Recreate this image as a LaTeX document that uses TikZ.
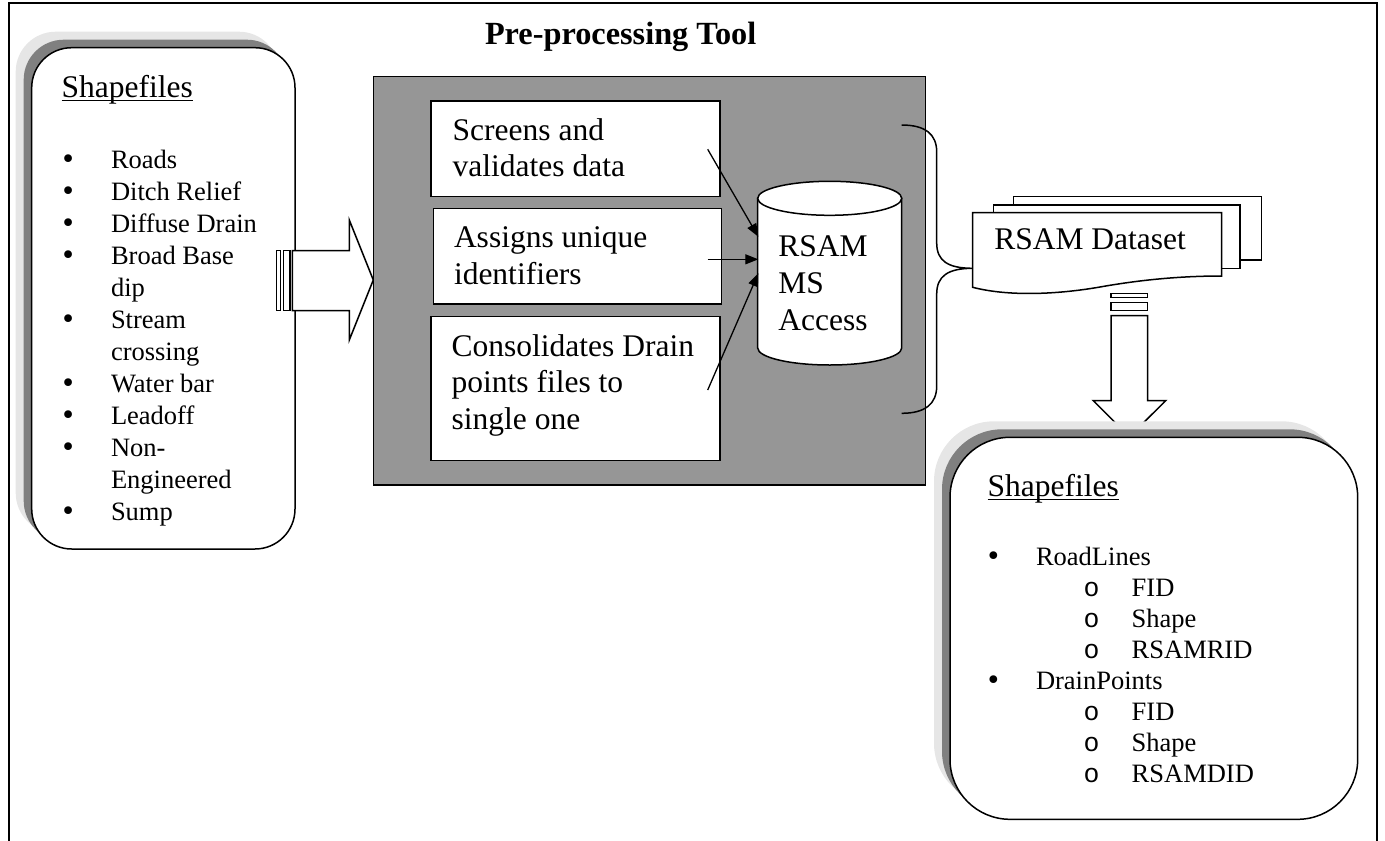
\documentclass[tikz,border=0pt]{standalone}
\usepackage{fontspec}
\setmainfont{Liberation Serif}
\newfontfamily\monofont{Liberation Mono}
\newfontfamily\bulfont{DejaVu Sans}
\usetikzlibrary{arrows.meta}
\definecolor{panelgray}{HTML}{969696}
\definecolor{shdark}{HTML}{808080}
\definecolor{shlight}{HTML}{E6E6E6}
\newcommand{\mlines}[1]{\begin{tabular}[t]{@{}l@{}}#1\end{tabular}}
\newcommand{\bigbul}{{\bulfont •}}
\newcommand{\lbul}{\makebox[50.6pt][l]{\bigbul}}
\newcommand{\rbul}{\makebox[50.3pt][l]{\bigbul}}
\newcommand{\rsub}{\hspace*{98pt}\makebox[48pt][l]{\monofont o}}
\begin{document}
\begin{tikzpicture}[x=1pt,y=-1pt,
  line/.style={line width=1.5pt},
  txt/.style={inner sep=0pt, outer sep=0pt, anchor=base west, align=left},
  big/.style={font=\fontsize{31.5}{36.7}\selectfont},
  plainbox/.style={draw, line width=1.5pt, fill=white, inner sep=0pt, outer sep=0pt, anchor=north west},
  roundbox/.style={inner sep=0pt, outer sep=0pt, anchor=north west},
  stripe/.style={draw, line width=1.2pt, fill=white},
  fatarrow/.style={draw, line width=1.5pt, fill=white, line join=miter},
  feed/.style={line width=1.3pt, -{Triangle[length=13pt,width=10pt]}}
]
\useasboundingbox (0,0) rectangle (1385,841);

% outer frame (open at bottom)
\draw[line width=2pt] (9.3,841) -- (9.3,3.3) -- (1376.7,3.3) -- (1376.7,841);

% title
\node[txt, font=\bfseries\fontsize{32.3}{36.7}\selectfont] (title) at (485,44.3) {Pre-processing Tool};

% ---------- left shapefiles box ----------
\node[roundbox, fill=shlight, rounded corners=40pt, minimum width=263.3pt, minimum height=501.3pt] (lsh2) at (15.7,31.7) {};
\node[roundbox, fill=shdark, rounded corners=40pt, minimum width=263.3pt, minimum height=501.3pt] (lsh1) at (23.7,39.7) {};
\node[roundbox, draw, line width=1.5pt, fill=white, rounded corners=40pt, minimum width=263.3pt, minimum height=501.3pt] (lbox) at (31.7,47.7) {};
\node[txt, big] (lhead) at (61.7,97.3) {Shapefiles};
\draw[line width=1.4pt] ([yshift=-3pt]lhead.base west) -- ([yshift=-3pt]lhead.base east);
\node[txt, font=\fontsize{26.5}{32}\selectfont] (llist) at (60.4,168.3) {\mlines{%
\lbul Roads\\
\lbul Ditch Relief\\
\lbul Diffuse Drain\\
\lbul Broad Base\\
\hspace*{50.6pt}dip\\
\lbul Stream\\
\hspace*{50.6pt}crossing\\
\lbul Water bar\\
\lbul Leadoff\\
\lbul Non-\\
\hspace*{50.6pt}Engineered\\
\lbul Sump}};

% ---------- left block arrow ----------
\draw[stripe] (276.7,250.7) rectangle (280.7,310.7);
\draw[stripe] (283.3,250.7) rectangle (290,310.7);
\draw[fatarrow] (292.3,250.7) -- (349.3,250.7) -- (349.3,220) -- (373.3,280) -- (349.3,340) -- (349.3,310.7) -- (292.3,310.7) -- cycle;

% ---------- pre-processing panel ----------
\node[plainbox, fill=panelgray, minimum width=552.4pt, minimum height=408.3pt] (panel) at (373.3,76.7) {};
\node[plainbox, minimum width=289pt, minimum height=95.7pt] (b1) at (431,101) {};
\node[plainbox, minimum width=288.4pt, minimum height=95.7pt] (b2) at (433.3,208.3) {};
\node[plainbox, minimum width=289pt, minimum height=144pt] (b3) at (431,316.7) {};
\node[txt, big] (t1) at (452.7,140) {\mlines{Screens and\\validates data}};
\node[txt, big] (t2) at (454,247.3) {\mlines{Assigns unique\\identifiers}};
\node[txt, big] (t3) at (451.7,356) {\mlines{Consolidates Drain\\points files to\\single one}};

% cylinder
\draw[line, fill=white] (757.7,198.3) -- (757.7,348) arc[start angle=180, end angle=0, x radius=72, y radius=17] -- (901.7,198.3) -- cycle;
\draw[line, fill=white] (829.7,198.3) ellipse[x radius=72, y radius=17];
\node[txt, big] (cyl) at (778.3,256.7) {\mlines{RSAM\\MS\\Access}};

% feeding arrows
\coordinate (a1) at (707.7,149.3);
\coordinate (a2) at (707.7,259.3);
\coordinate (a3) at (707.7,390);
\coordinate (c1) at (758.3,236.7);
\coordinate (c2) at (758.3,259.3);
\coordinate (c3) at (758.3,273.3);
\draw[feed] (a1) -- (c1);
\draw[feed] (a2) -- (c2);
\draw[feed] (a3) -- (c3);

% brace
\coordinate (brtop) at (901.7,125);
\coordinate (brtip) at (973,268.3);
\coordinate (brbot) at (901.7,413.3);
\draw[line] (brtop) .. controls (925,125) and (936.7,134) .. (936.7,152)
  -- (936.7,243) .. controls (936.7,261) and (948,268.3) .. (brtip)
  .. controls (948,268.3) and (936.7,276) .. (936.7,294)
  -- (936.7,386) .. controls (936.7,404) and (925,413.3) .. (brbot);

% ---------- document stack ----------
\node[plainbox, minimum width=248.4pt, minimum height=63.3pt] (doc3) at (1013.3,196.7) {};
\node[plainbox, minimum width=246.7pt, minimum height=63.3pt] (doc2) at (993.3,205) {};
\draw[line, fill=white] (972.7,212.7) -- (1221.7,212.7) -- (1221.7,276)
  .. controls (1185,276) and (1145,279) .. (1100,287)
  .. controls (1060,294) and (1010,297) .. (972.7,287.3) -- cycle;
\node[txt, big] (ds) at (994.3,249.3) {RSAM Dataset};

% ---------- down block arrow ----------
\draw[stripe] (1111,293.3) rectangle (1147.7,297.3);
\draw[stripe] (1111,302.3) rectangle (1147.7,310.7);
\draw[fatarrow] (1111,315.7) -- (1147.7,315.7) -- (1147.7,400.7) -- (1165.7,400.7) -- (1129.4,436.7) -- (1093.3,400.7) -- (1111,400.7) -- cycle;

% ---------- right shapefiles box ----------
\node[roundbox, fill=shlight, rounded corners=60pt, minimum width=407.7pt, minimum height=382pt] (rsh2) at (934,421.3) {};
\node[roundbox, fill=shdark, rounded corners=60pt, minimum width=407.7pt, minimum height=382pt] (rsh1) at (942,429.3) {};
\node[roundbox, draw, line width=1.5pt, fill=white, rounded corners=60pt, minimum width=407.7pt, minimum height=382pt] (rbox) at (950,437.3) {};
\node[txt, big] (rhead) at (987.7,496.7) {Shapefiles};
\draw[line width=1.4pt] ([yshift=-3pt]rhead.base west) -- ([yshift=-3pt]rhead.base east);
\node[txt, font=\fontsize{26.5}{30.9}\selectfont] (rlist) at (985.7,565.7) {\mlines{%
\rbul RoadLines\\
\rsub FID\\
\rsub Shape\\
\rsub RSAMRID\\
\rbul DrainPoints\\
\rsub FID\\
\rsub Shape\\
\rsub RSAMDID}};
\end{tikzpicture}
\end{document}
